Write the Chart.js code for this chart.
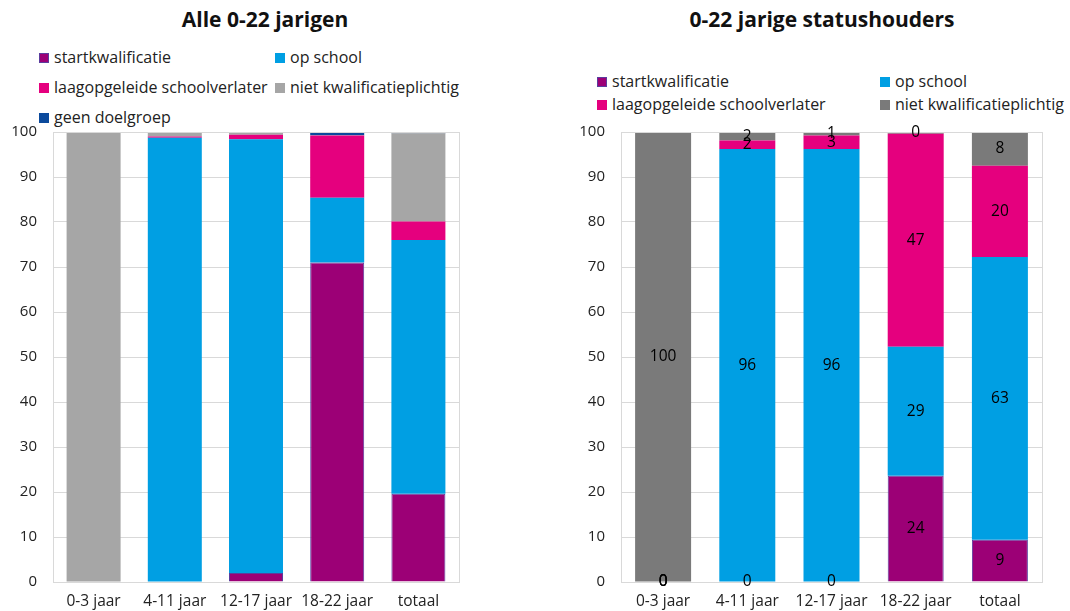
<!DOCTYPE html>
<html>
<head>
<meta charset="utf-8">
<script src="https://cdn.jsdelivr.net/npm/chart.js@4.4.0/dist/chart.umd.min.js"></script>
<style>
  body { margin: 0; width: 1070px; height: 611px; position: relative; background: #fff; font-family: "Open Sans", sans-serif; overflow: hidden; }
  .title { position: absolute; top: 5px; font-weight: bold; font-size: 21px; color: #111; transform: translateX(-50%); white-space: nowrap; }
  .leg { position: absolute; font-size: 16px; color: #222; white-space: nowrap; line-height: 20px; }
  .leg i { display: inline-block; width: 10px; height: 10px; margin-right: 5px; vertical-align: 0px; box-sizing: border-box; }
  .wrap { position: absolute; top: 107px; height: 504px; }
</style>
</head>
<body>
<div class="title" style="left:265px">Alle 0-22 jarigen</div>
<div class="title" style="left:822px">0-22 jarige statushouders</div>
<div id="legLeft"></div>
<div id="legRight"></div>
<div class="wrap" style="left:0;width:470px"><canvas id="chartLeft"></canvas></div>
<div class="wrap" style="left:560px;width:490px"><canvas id="chartRight"></canvas></div>
<script>
const categories = ['0-3 jaar', '4-11 jaar', '12-17 jaar', '18-22 jaar', 'totaal'];
const yTicks = [0, 10, 20, 30, 40, 50, 60, 70, 80, 90, 100];

// Alle 0-22 jarigen (%)
const alleStart = [0, 0, 2.0, 71.0, 19.6];
const alleSchool = [0, 98.7, 96.4, 14.4, 56.4];
const alleLaag = [0, 0.3, 1.0, 13.8, 4.1];
const alleNiet = [100, 1.0, 0.6, 0.1, 19.6];
const alleGeen = [0, 0, 0, 0.7, 0.3];

// 0-22 jarige statushouders (%)
const statStart = [0, 0, 0, 23.6, 9.4];
const statSchool = [0, 96.2, 96.2, 28.7, 62.8];
const statLaag = [0, 1.9, 3.0, 47.3, 20.3];
const statNiet = [100, 1.9, 0.8, 0.4, 7.5];

const PURPLE = '#9c0076', BLUE = '#009fe3', PINK = '#e5007e', DARKBLUE = '#0b4a9c';

function ds(label, data, color, border) {
  return {
    label, data, backgroundColor: color,
    borderColor: border || color,
    borderWidth: c => (border && c.raw > 0 ? 1 : 0),
    barPercentage: 0.665, categoryPercentage: 1,
  };
}

const leftSets = [
  ds('startkwalificatie', alleStart, PURPLE, '#5b3d9e'),
  ds('op school', alleSchool, BLUE),
  ds('laagopgeleide schoolverlater', alleLaag, PINK),
  ds('niet kwalificatieplichtig', alleNiet, '#a6a6a6'),
  ds('geen doelgroep', alleGeen, DARKBLUE),
];
const rightSets = [
  ds('startkwalificatie', statStart, PURPLE, '#5b3d9e'),
  ds('op school', statSchool, BLUE),
  ds('laagopgeleide schoolverlater', statLaag, PINK),
  ds('niet kwalificatieplichtig', statNiet, '#7a7a7a'),
];

function buildLegend(el, sets, xs, ys) {
  sets.forEach((s, i) => {
    const d = document.createElement('div');
    d.className = 'leg';
    d.style.left = xs[i % 2] + 'px';
    d.style.top = (ys[Math.floor(i / 2)] - 10) + 'px';
    const b = s.borderColor !== s.backgroundColor ? 'border:1px solid ' + s.borderColor + ';' : '';
    d.innerHTML = '<i style="background:' + s.backgroundColor + ';' + b + '"></i>' + s.label;
    el.appendChild(d);
  });
}
buildLegend(document.getElementById('legLeft'), leftSets, [39, 275], [57, 87, 117]);
buildLegend(document.getElementById('legRight'), rightSets, [597, 880], [81, 104]);

const frame = {
  id: 'frame',
  afterDatasetsDraw(chart) {
    const a = chart.chartArea, ctx = chart.ctx;
    ctx.save();
    ctx.strokeStyle = '#d9d9d9';
    ctx.lineWidth = 1;
    ctx.strokeRect(Math.round(a.left) + 0.5, Math.round(a.top) + 0.5, Math.round(a.width), Math.round(a.height));
    ctx.restore();
  }
};

const valueLabels = {
  id: 'valueLabels',
  afterDatasetsDraw(chart, args, opts) {
    if (!opts.show) return;
    const ctx = chart.ctx;
    ctx.save();
    ctx.font = '15.5px "Open Sans"';
    ctx.fillStyle = '#000';
    ctx.textAlign = 'center';
    ctx.textBaseline = 'middle';
    chart.data.datasets.forEach((d, i) => {
      chart.getDatasetMeta(i).data.forEach((bar, j) => {
        const p = bar.getProps(['x', 'y', 'base'], true);
        ctx.fillText(String(Math.round(d.data[j])), p.x, (p.y + p.base) / 2);
      });
    });
    ctx.restore();
  }
};

function makeChart(id, sets, yWidth, padRight, labels) {
  return new Chart(document.getElementById(id), {
    type: 'bar',
    data: { labels: categories, datasets: sets },
    plugins: [frame, valueLabels],
    options: {
      responsive: true,
      maintainAspectRatio: false,
      animation: false,
      layout: { padding: { top: 0, right: padRight, bottom: 0, left: 0 } },
      plugins: {
        legend: { display: false },
        tooltip: { enabled: false },
        valueLabels: { show: labels },
      },
      scales: {
        x: {
          stacked: true,
          grid: { display: false },
          border: { display: false },
          ticks: { color: '#222', font: { family: 'Open Sans', size: 15.5 }, padding: 2, maxRotation: 0 },
          afterFit: s => { s.height = 29; },
        },
        y: {
          stacked: true,
          min: 0, max: 100,
          afterBuildTicks: s => { s.ticks = yTicks.map(v => ({ value: v })); },
          grid: { color: '#d9d9d9', drawTicks: false },
          border: { display: false },
          ticks: { color: '#222', font: { family: 'Open Sans', size: 15 }, padding: 16 },
          afterFit: s => { s.width = yWidth; },
        },
      },
    },
  });
}

makeChart('chartLeft', leftSets, 53, 11, false);
makeChart('chartRight', rightSets, 61, 8, true);
</script>
</body>
</html>
